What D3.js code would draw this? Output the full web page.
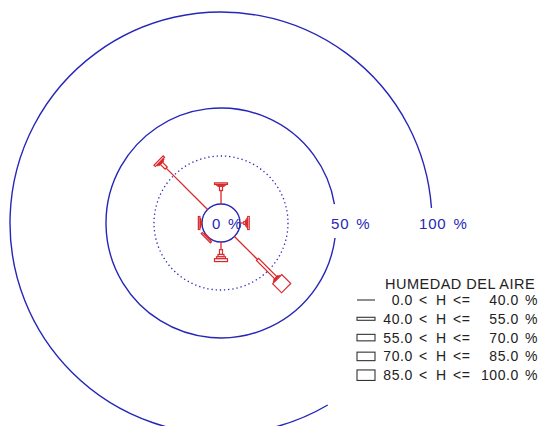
<!DOCTYPE html>
<html>
<head>
<meta charset="utf-8">
<script src="https://cdn.jsdelivr.net/npm/d3@7"></script>
<style>
  body { margin: 0; background: #fff; }
  text { font-family: "Liberation Sans", Arial, sans-serif; }
</style>
</head>
<body>
<div id="rose"></div>
<script>
// Rosa de humedad
const width = 544;
const height = 426;
const center = {x: 221, y: 223};

// directions (degrees, clockwise from north)
const directions = ["N", "NE", "E", "SE", "S", "SW", "W", "NW"];
const dirAngles = [0, 45, 90, 135, 180, 225, 270, 315];

// frequency (%) per humidity class and direction
const h0_40   = [7.0, 0, 2.0, 17.0, 4.0, 0,   0.3, 30.5];
const h40_55  = [2.2, 0, 1.0, 13.5, 2.5, 0,   0.3, 3.6];
const h55_70  = [0.6, 0, 0.6, 0.6,  1.2, 0.2, 0.2, 0.5];
const h70_85  = [0.4, 0, 0.4, 0.4,  1.0, 0.3, 0.3, 0.5];
const h85_100 = [0.8, 0, 0.8, 6.6,  1.5, 0.8, 0.8, 1.0];

const classLabels = [["0.0", "40.0"], ["40.0", "55.0"], ["55.0", "70.0"], ["70.0", "85.0"], ["85.0", "100.0"]];
const ringLabels = ["0 %", "50 %", "100 %"];

const red = "#d8282c";
const blue = "#2626b8";
const classWidth = [0, 3, 6, 9, 13];
const legendHeight = [0, 3, 6.5, 8.5, 10.5];

const svg = d3.select("#rose")
              .append("svg")
              .attr("width", width)
              .attr("height", height);

const g = svg.append("g")
             .attr("transform", "translate(" + center.x + "," + center.y + ")");

// radial scale, 0 % sits on the small circle
let r = d3.scaleLinear()
          .domain([0, 100])
          .range([19, 211]);

const arc = d3.arc();
const deg = Math.PI / 180;

// rings
g.append("circle")
 .attr("r", r(0))
 .attr("fill", "none")
 .attr("stroke", blue)
 .attr("stroke-width", 1.4);

g.append("circle")
 .attr("r", r(25))
 .attr("fill", "none")
 .attr("stroke", blue)
 .attr("stroke-width", 1.3)
 .attr("stroke-dasharray", "1.3,2.9");

g.append("path")
 .attr("d", arc({innerRadius: r(50), outerRadius: r(50), startAngle: 97.5 * deg, endAngle: 440.5 * deg}))
 .attr("fill", "none")
 .attr("stroke", blue)
 .attr("stroke-width", 1.4);

g.append("path")
 .attr("d", arc({innerRadius: r(100), outerRadius: r(100), startAngle: 149.6 * deg, endAngle: 445.9 * deg}))
 .attr("fill", "none")
 .attr("stroke", blue)
 .attr("stroke-width", 1.4);

// ring labels
g.append("text").attr("x", -9).attr("y", 6)
 .text(ringLabels[0]);
g.append("text").attr("x", r(50) - 5).attr("y", 6)
 .text(ringLabels[1]);
g.append("text").attr("x", r(100) - 13).attr("y", 6)
 .text(ringLabels[2]);
g.selectAll("text")
 .attr("fill", blue)
 .attr("font-size", 15)
 .attr("letter-spacing", 0.8)
 .attr("word-spacing", 2);

// arms
const classes = [h0_40, h40_55, h55_70, h70_85, h85_100];
const arms = g.selectAll(".arm")
              .data(directions)
              .enter()
              .append("g")
              .attr("class", "arm")
              .attr("transform", function(d, i) { return "rotate(" + dirAngles[i] + ")"; });

arms.each(function(d, i) {
  let arm = d3.select(this);
  let acc = 0;
  classes.forEach(function(c, k) {
    let v = c[i];
    if (v <= 0) return;
    let r1 = r(acc), r2 = r(acc + v);
    if (k == 0) {
      arm.append("line")
         .attr("x1", 0).attr("x2", 0)
         .attr("y1", -r1).attr("y2", -r2)
         .attr("stroke", red)
         .attr("stroke-width", 1.3);
    } else {
      arm.append("rect")
         .attr("x", -classWidth[k] / 2)
         .attr("y", -r2)
         .attr("width", classWidth[k])
         .attr("height", r2 - r1)
         .attr("fill", "#fff")
         .attr("stroke", red)
         .attr("stroke-width", 1.2);
    }
    acc += v;
  });
});

// legend
const legend = svg.append("g").attr("fill", "#222").attr("font-size", 14);
legend.append("text")
      .attr("x", 385).attr("y", 289)
      .attr("font-size", 14.5)
      .attr("letter-spacing", 0.5)
      .text("HUMEDAD DEL AIRE");

const rows = legend.selectAll(".row")
                   .data(classLabels)
                   .enter()
                   .append("g")
                   .attr("class", "row")
                   .attr("transform", function(d, i) { return "translate(0," + (300 + i * 18.8) + ")"; });

rows.each(function(d, k) {
  let row = d3.select(this);
  if (k == 0) {
    row.append("line").attr("x1", 357).attr("x2", 375).attr("y1", 0).attr("y2", 0)
       .attr("stroke", "#333").attr("stroke-width", 1.1);
  } else {
    row.append("rect").attr("x", 357).attr("y", -legendHeight[k] / 2)
       .attr("width", 18).attr("height", legendHeight[k])
       .attr("fill", "#fff").attr("stroke", "#333").attr("stroke-width", 1.1);
  }
  row.append("text").attr("x", 413).attr("y", 5).attr("text-anchor", "end").text(d[0]);
  row.append("text").attr("x", 419).attr("y", 5).text("<");
  row.append("text").attr("x", 436).attr("y", 5).text("H");
  row.append("text").attr("x", 453).attr("y", 5).text("<=");
  row.append("text").attr("x", 519).attr("y", 5).attr("text-anchor", "end").text(d[1]);
  row.append("text").attr("x", 525).attr("y", 5).text("%");
});
legend.selectAll(".row text").attr("letter-spacing", 0.6);
</script>
</body>
</html>
